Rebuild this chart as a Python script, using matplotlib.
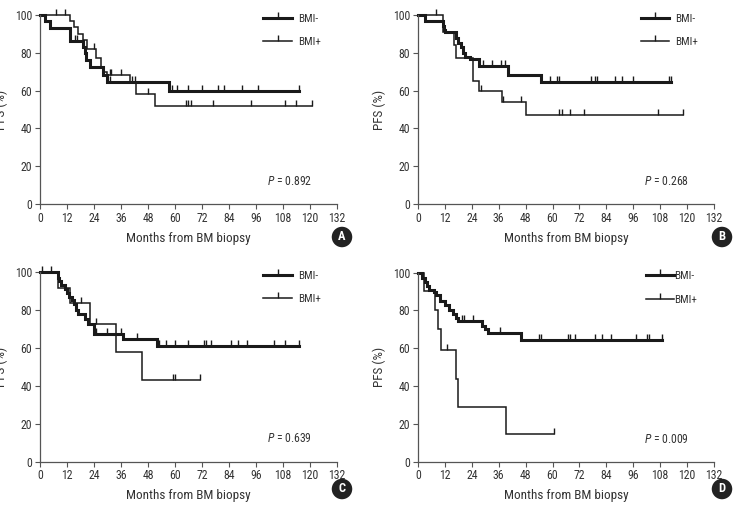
"""Kaplan-Meier PFS curves by BMI status, four panels."""
import matplotlib
matplotlib.use("Agg")
import matplotlib.pyplot as plt
import numpy as np
from matplotlib import font_manager

# pick a narrow face if one is around, otherwise DejaVu condensed
_names = {f.name for f in font_manager.fontManager.ttflist}
FONT = "DejaVu Sans"
for cand in ["Liberation Sans Narrow", "Roboto Condensed", "Open Sans Condensed"]:
    if cand in _names:
        FONT = cand
        break
plt.rcParams["font.family"] = [FONT, "DejaVu Sans"]
plt.rcParams["font.stretch"] = "condensed"
plt.rcParams["mathtext.fontset"] = "custom"
plt.rcParams["mathtext.it"] = FONT + ":italic"
plt.rcParams["mathtext.rm"] = FONT

X_TICKS = list(range(0, 133, 12))
Y_TICKS = [0, 20, 40, 60, 80, 100]
X_LABEL = "Months from BM biopsy"
Y_LABEL = "PFS (%)"
LEGEND_LABELS = ["BMI-", "BMI+"]

# panel A
A_neg_t = [0, 2, 4.5, 13.5, 19, 20, 20.5, 22, 28, 30, 57.5]
A_neg_s = [100, 97, 93, 86.5, 83, 80, 76, 72.5, 68, 64.5, 60]
A_neg_end = 115
A_neg_cens = [15.5, 16.5, 31, 41, 42, 58.5, 61, 66, 72, 79, 82, 90, 97, 115]
A_pos_t = [0, 13.5, 15, 17, 19, 21, 25, 27, 28.5, 30, 40, 42.5, 51]
A_pos_s = [100, 97, 93.5, 90, 87, 82, 77, 72, 70, 68, 64.5, 58, 52]
A_pos_end = 121
A_pos_cens = [7, 11, 24, 31, 31.5, 36, 48, 65, 66, 67, 77, 94, 109, 114, 121]

# panel B
B_neg_t = [0, 3, 11, 11.5, 12, 17, 18, 19, 20, 21, 23, 27, 40, 55]
B_neg_s = [100, 97, 94, 92, 91, 88, 85, 83, 80, 78, 76.5, 73, 68.5, 64.5]
B_neg_end = 113
B_neg_cens = [29, 33, 37, 39, 59, 62, 63, 77, 79, 80, 88, 91, 96, 112, 113]
B_pos_t = [0, 11, 16, 17, 24.5, 27, 37.5, 48]
B_pos_s = [100, 91, 84, 77, 65, 60, 54, 47]
B_pos_end = 118
B_pos_cens = [8, 28, 38, 46, 63, 64, 68, 74, 107, 118]

# panel C
C_neg_t = [0, 8, 8.5, 9.5, 11, 12, 13, 14, 15, 16, 17, 20, 21.5, 24, 37, 52]
C_neg_s = [100, 97, 95, 93, 91, 89, 87, 85, 83, 80, 78, 75, 72.5, 67.5, 64.5, 61]
C_neg_end = 115
C_neg_cens = [1, 5, 25, 30, 36, 43, 53, 56, 60, 66, 73, 74, 76, 85, 88, 92, 104, 109, 115]
C_pos_t = [0, 8, 13.5, 22, 34, 45.5]
C_pos_s = [100, 91.5, 83.5, 72.5, 58, 43]
C_pos_end = 71
C_pos_cens = [18, 25, 59, 60, 71]

# panel D
D_neg_t = [0, 2, 3, 4, 5, 7, 8, 10, 12, 14, 15.5, 17, 18, 28.5, 30, 31, 46]
D_neg_s = [100, 97, 95, 93, 91, 90, 88, 85, 83, 80, 78, 76, 74.5, 72, 70, 68, 64.5]
D_neg_end = 109
D_neg_cens = [19.5, 20.5, 24.5, 36.5, 54, 55, 67, 68, 70, 79, 82, 86, 97, 102, 103, 109]
D_pos_t = [0, 2.8, 7.6, 9, 10.3, 16.8, 18, 39.3]
D_pos_s = [100, 90.5, 80, 70, 59, 44, 29, 14.7]
D_pos_end = 60.5
D_pos_cens = [13, 60.5]

P_VALUES = ["0.892", "0.268", "0.639", "0.009"]
PANEL_LETTERS = ["A", "B", "C", "D"]

INK = "#1a1a1a"
AXIS = "#555555"
TXT = "#333333"


def draw_km(ax, t, s, end, cens, lw):
    xs = list(t) + [end]
    ys = list(s) + [s[-1]]
    ax.step(xs, ys, where="post", color=INK, linewidth=lw,
            solid_joinstyle="miter", clip_on=False)
    idx = np.searchsorted(t, cens, side="right") - 1
    cy = np.asarray(s)[idx]
    ax.plot(cens, cy, linestyle="none", marker=2, markersize=4,
            markeredgewidth=1.0, color=INK, clip_on=False)


fig = plt.figure(figsize=(7.34, 5.05), dpi=100)
W, H = 734, 505
boxes = [(40, 15, 337, 204), (418, 15, 714, 204),
         (40, 272, 337, 461.7), (418, 272.7, 714, 461.7)]
curves = [
    (A_neg_t, A_neg_s, A_neg_end, A_neg_cens, A_pos_t, A_pos_s, A_pos_end, A_pos_cens),
    (B_neg_t, B_neg_s, B_neg_end, B_neg_cens, B_pos_t, B_pos_s, B_pos_end, B_pos_cens),
    (C_neg_t, C_neg_s, C_neg_end, C_neg_cens, C_pos_t, C_pos_s, C_pos_end, C_pos_cens),
    (D_neg_t, D_neg_s, D_neg_end, D_neg_cens, D_pos_t, D_pos_s, D_pos_end, D_pos_cens),
]
letter_pos = [(342, 237), (722, 237), (342, 489), (722, 489)]

for i, (x0, y0, x1, y1) in enumerate(boxes):
    ax = fig.add_axes([x0 / W, 1 - y1 / H, (x1 - x0) / W, (y1 - y0) / H])
    nt, ns, ne, nc, pt, ps, pe, pc = curves[i]
    draw_km(ax, nt, ns, ne, nc, 2.2)
    draw_km(ax, pt, ps, pe, pc, 1.1)

    ax.set_xlim(0, 132)
    ax.set_ylim(0, 100)
    ax.set_xticks(X_TICKS)
    ax.set_yticks(Y_TICKS)
    for side in ("top", "right"):
        ax.spines[side].set_visible(False)
    for side in ("left", "bottom"):
        ax.spines[side].set_color(AXIS)
        ax.spines[side].set_linewidth(0.9)
    ax.tick_params(direction="out", length=3.5, width=0.8, color=AXIS,
                   labelsize=8.5, labelcolor=TXT, pad=2)
    ax.set_xlabel(X_LABEL, fontsize=9.5, color=TXT, labelpad=5)
    ax.set_ylabel(Y_LABEL, fontsize=9.5, color=TXT, labelpad=5)

    handles = [
        plt.Line2D([], [], color=INK, linewidth=2.2, marker=2,
                   markersize=4, markeredgewidth=1.0),
        plt.Line2D([], [], color=INK, linewidth=1.1, marker=2,
                   markersize=4, markeredgewidth=1.0),
    ]
    pad = 0.0 if i == 3 else 0.5
    ax.legend(handles, LEGEND_LABELS, loc="upper left",
              bbox_to_anchor=(0.718 if i != 3 else 0.735, 1.06),
              frameon=False, fontsize=8, handlelength=2.6,
              handletextpad=pad, labelspacing=1.2, numpoints=1,
              labelcolor=TXT)

    ax.text(121, 12, r"$P$ = " + P_VALUES[i], ha="right", va="center",
            fontsize=8.5, color=TXT)

    lx, ly = letter_pos[i]
    fig.text(lx / W, 1 - ly / H, PANEL_LETTERS[i], ha="center", va="center",
             fontsize=9, fontweight="bold", color="white",
             bbox=dict(boxstyle="circle,pad=0.3", fc="#222222", ec="none"))

fig.savefig("out.png", dpi=100)
